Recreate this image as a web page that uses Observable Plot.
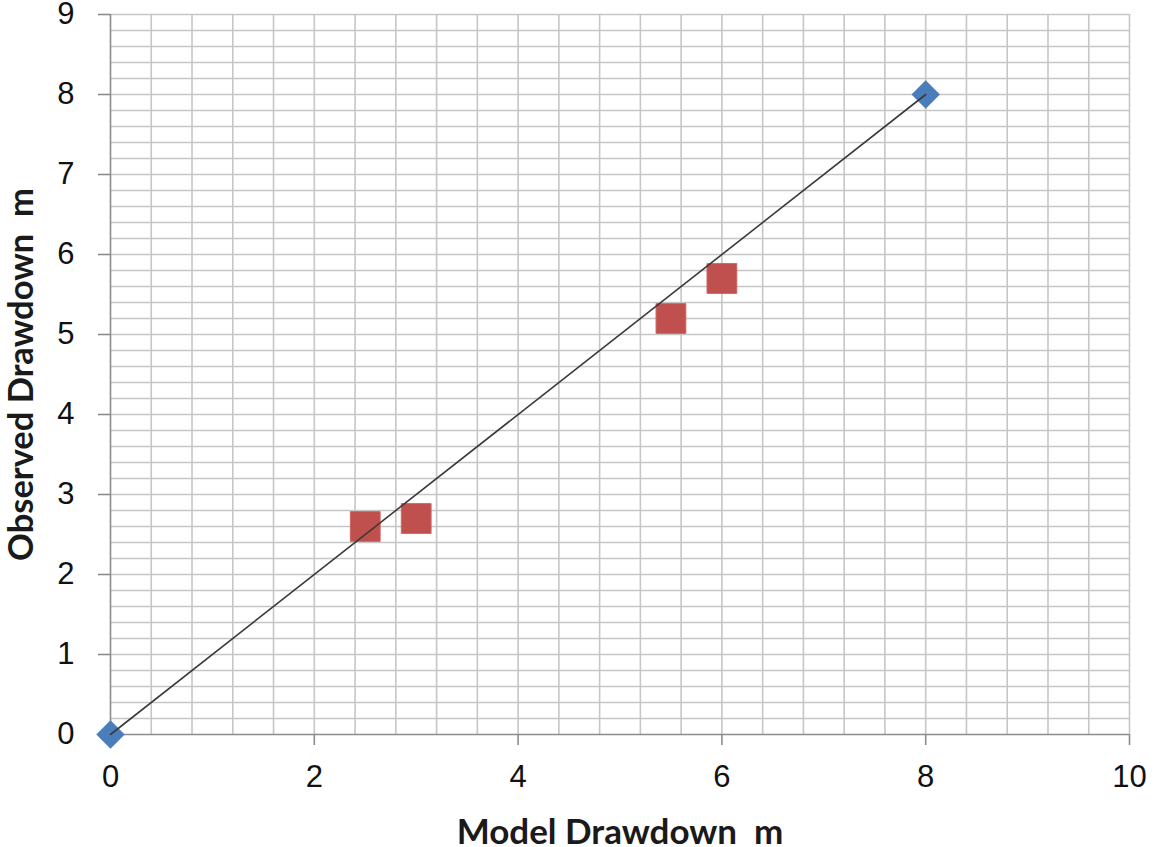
<!DOCTYPE html>
<html>
<head>
<meta charset="utf-8">
<script src="https://cdn.jsdelivr.net/npm/d3@7"></script>
<script src="https://cdn.jsdelivr.net/npm/@observablehq/plot@0.6"></script>
<style>
  html, body { margin: 0; padding: 0; background: #fff; }
  #chart svg { display: block; }
</style>
</head>
<body>
<div id="chart"></div>
<script>
// Data
const modelBlue = [0, 8];          // Model Drawdown (m), blue diamonds
const observedBlue = [0, 8];       // Observed Drawdown (m), blue diamonds
const modelRed = [2.5, 3.0, 5.5, 6.0];   // Model Drawdown (m), red squares
const observedRed = [2.6, 2.7, 5.2, 5.7]; // Observed Drawdown (m), red squares
const lineX = [0, 8];              // 1:1 line
const lineY = [0, 8];
const xTicks = [0, 2, 4, 6, 8, 10];
const yTicks = [0, 1, 2, 3, 4, 5, 6, 7, 8, 9];
const xTitle = "Model Drawdown  m";
const yTitle = "Observed Drawdown  m";

const blue = modelBlue.map((x, i) => ({x, y: observedBlue[i]}));
const red = modelRed.map((x, i) => ({x, y: observedRed[i]}));
const line = lineX.map((x, i) => ({x, y: lineY[i]}));

const xGrid = d3.range(0.4, 10.001, 0.4);
const yGrid = d3.range(0.2, 9.001, 0.2);

const titleFont = "Lato, 'Open Sans', sans-serif";

const chart = Plot.plot({
  width: 1155,
  height: 847,
  marginLeft: 110,
  marginRight: 26,
  marginTop: 14,
  marginBottom: 113,
  style: {fontFamily: "'Liberation Sans', Arial, sans-serif", background: "#fff", overflow: "visible"},
  x: {domain: [0, 10]},
  y: {domain: [0, 9]},
  marks: [
    Plot.ruleX(xGrid, {stroke: "#c6c6c6", strokeWidth: 1.6}),
    Plot.ruleY(yGrid, {stroke: "#c6c6c6", strokeWidth: 1.6}),
    Plot.ruleX([0], {stroke: "#8c8c8c", strokeWidth: 1.6}),
    Plot.ruleY([0], {stroke: "#8c8c8c", strokeWidth: 1.6}),
    Plot.axisX({ticks: xTicks, tickSize: 11, tickPadding: 19, fontSize: 31, stroke: "#8c8c8c", strokeWidth: 1.6, fill: "#111", label: null}),
    Plot.axisY({ticks: yTicks, tickSize: 12, tickPadding: 24, fontSize: 31, stroke: "#8c8c8c", strokeWidth: 1.6, fill: "#111", label: null}),
    Plot.dot(red, {x: "x", y: "y", symbol: "square", r: 16.8, fill: "#c0504d", stroke: "#cc6461", strokeWidth: 1, strokeLinejoin: "round"}),
    Plot.dot(blue, {x: "x", y: "y", symbol: "diamond2", r: 12.8, fill: "#4a7ebb"}),
    Plot.line(line, {x: "x", y: "y", stroke: "#3a3a3a", strokeWidth: 1.6}),
    Plot.text([xTitle], {frameAnchor: "bottom", dy: 98, fontSize: 35, fontWeight: "bold", fontFamily: titleFont, fill: "#1a1a1a", lineAnchor: "middle", textAnchor: "middle"}),
    Plot.text([yTitle], {frameAnchor: "left", dx: -89, rotate: -90, fontSize: 34.5, fontWeight: "bold", fontFamily: titleFont, fill: "#1a1a1a", lineAnchor: "middle", textAnchor: "middle"})
  ]
});
chart.querySelectorAll("text").forEach(t => t.style.whiteSpace = "pre");
document.getElementById("chart").appendChild(chart);
</script>
</body>
</html>
